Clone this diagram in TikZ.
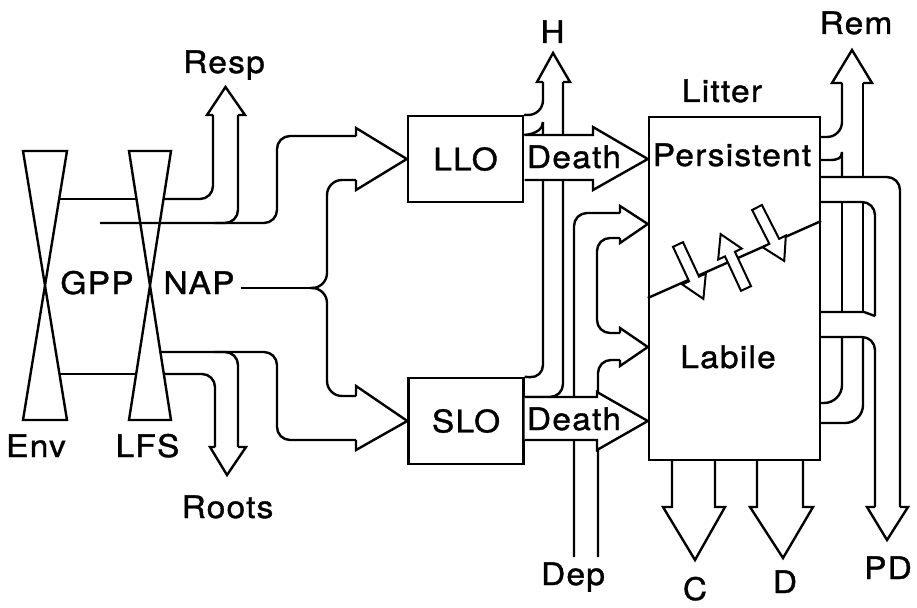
\documentclass[tikz,border=0pt]{standalone}
\usepackage{fontspec}
\setmainfont{TeX Gyre Heros}[FakeStretch=1.08,LetterSpace=4,FakeBold=1.2]

\begin{document}
\begin{tikzpicture}[x=1pt,y=-1pt,line width=2.4pt,
  font=\fontsize{31}{34}\selectfont,
  lab/.style={inner sep=0pt,text height=22pt,text depth=0pt},
  pool/.style={draw,inner sep=0pt,minimum width=115pt,minimum height=86pt},
  band/.style={rounded corners=13pt},
  flip/.style={fill=white}]
\useasboundingbox (0,0) rectangle (917,607);

% pools
\node[pool] (llo) at (465.5,159) {LLO};
\node[pool] (slo) at (466,421) {SLO};
\node[draw,minimum width=171pt,minimum height=343pt] (litter) at (734.5,288.5) {};

% labels
\node[lab] (resp) at (224,62) {Resp};
\node[lab] (gpp) at (97,283) {GPP};
\node[lab] (nap) at (199,283) {NAP};
\node[lab] (env) at (36,446) {Env};
\node[lab] (lfs) at (147.5,446) {LFS};
\node[lab] (roots) at (227.5,507) {Roots};
\node[lab] (h) at (552.5,32) {H};
\node[lab] (rem) at (856,23) {Rem};
\node[lab] (littername) at (722,91) {Litter};
\node[lab] (pers) at (732,155) {Persistent};
\node[lab] (labile) at (728,357) {Labile};
\node[lab] (dep) at (573,574) {Dep};
\node[lab] (c) at (695,589) {C};
\node[lab] (d) at (785,582) {D};
\node[lab] (pd) at (888,568) {PD};

% valves
\draw (23,151) -- (67,151) -- (23,420) -- (67,420) -- cycle;
\draw (129,151) -- (171,151) -- (129,420) -- (171,420) -- cycle;
\draw (59,199) -- (136.5,199);
\draw (59.5,374) -- (136,374);

% respiration and roots
\draw[band] (163.5,199) -- (213,199) -- (213,115);
\draw (213,115) -- (207,115) -- (225.5,87) -- (245,115) -- (238,115);
\draw[band] (238,115) -- (238,223) -- (214,223);
\draw[band] (163.8,374) -- (215,374) -- (215,447);
\draw (215,447) -- (210,447) -- (227,475) -- (246,447) -- (238,447);
\draw[band] (238,447) -- (238,352) -- (214,352);

% NAP split into LLO and SLO
\draw[band] (100,223) -- (277,223) -- (277,136) -- (356,136);
\draw[band] (160.4,352) -- (277,352) -- (277,440) -- (356,440);
\draw ([xshift=5pt,yshift=-5pt]nap.east) -- (312,288);
\draw[rounded corners=15pt] (356,180) -- (327,180) -- (327,288) -- (310,288);
\draw[rounded corners=15pt] (356,396) -- (327,396) -- (327,288) -- (310,288);
\draw (356,136) -- (356,128) -- (llo.west) -- (356,190) -- (356,180);
\draw (356,396) -- (356,386) -- (slo.west) -- (356,450) -- (356,440);

% herbivory
\draw (543,82) -- (537,82) -- (553,53) -- (570,82) -- (563,82);
\draw[rounded corners=16pt] (543,82) -- (543,116) -- (llo.north east);
\draw (llo.east |- 0,135) .. controls (536,134) and (543,129) .. (543,122);
\draw[band] (543,122) -- (543,378) -- (slo.north east);
\draw[band] (563,82) -- (563,397) -- (slo.east |- 0,397);

% deposition
\draw[band] (574,557) -- (574,213) -- (620,213);
\draw (620,213) -- (620,206) -- (litter.west |- 0,224) -- (620,243) -- (620,238);
\draw[band] (620,238) -- (597,238) -- (597,333) -- (620,333);
\draw (620,333) -- (620,328) -- (litter.west |- 0,347) -- (620,366) -- (620,360);
\draw[band] (620,360) -- (598,360) -- (598,557);

% death
\draw[flip] (524.5,135) -- (593,135) -- (593,127) -- (litter.west |- llo.east) -- (593,190) -- (593,180) -- (524.5,180);
\draw[flip] (524.5,397) -- (597,397) -- (597,392) -- (litter.west |- slo.east) -- (597,450) -- (597,440) -- (524.5,440);
\node[lab] (death1) at (574,157) {Death};
\node[lab] (death2) at (574,419) {Death};

% litter transfers
\draw (litter.west |- 0,298) -- (litter.east |- 0,221);
\foreach \x/\y/\a in {678/244.5/25,746/288.5/205,757/207.5/27}
  \draw[flip,line width=2pt,shift={(\x,\y)},rotate=\a]
    (-5.5,0) -- (5.5,0) -- (5.5,38) -- (13,38) -- (0,60) -- (-13,38) -- (-5.5,38) -- cycle;

% outflows
\draw (litter.south -| 672,0) -- (672,507) -- (663,507) -- (695,560) -- (725,507) -- (715,507) -- (litter.south -| 715,0);
\draw (litter.south -| 757,0) -- (757,507) -- (750,507) -- (783,558) -- (813,507) -- (803,507) -- (litter.south -| 803,0);

% removal and physical degradation
\draw (842,83) -- (832,83) -- (852,50) -- (872,83) -- (863,83);
\draw[rounded corners=15pt] (842,83) -- (842,137) -- (litter.east |- 0,137);
\draw (litter.east |- 0,160) -- (830,160) .. controls (838,160) and (842,158) .. (842,152) -- (842,177);
\draw (863,83) -- (863,177);
\draw[band] (litter.east |- 0,177) -- (900,177) -- (900,507);
\draw[band] (litter.east |- 0,202) -- (875,202) -- (875,316);
\draw (875,316) -- (864,312) -- (litter.east |- 0,312);
\draw (842,202) -- (842,312);
\draw (863,202) -- (863,312);
\draw[band] (litter.east |- 0,337) -- (875,337) -- (875,507);
\draw[rounded corners=18pt] (842,337) -- (842,403) -- (litter.east |- 0,403);
\draw[rounded corners=18pt] (863,337) -- (863,423) -- (litter.east |- 0,423);
\draw (875,507) -- (867,507) -- (887,540) -- (908,507) -- (900,507);
\end{tikzpicture}
\end{document}
